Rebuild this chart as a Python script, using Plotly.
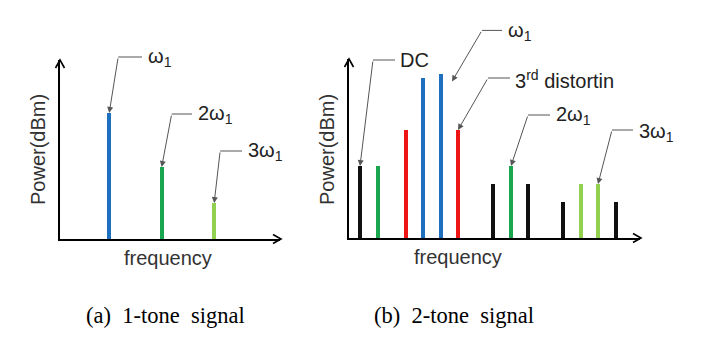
import plotly.graph_objects as go

W, H = 706, 354

# ---------------- data ----------------
# Panel (a): 1-tone signal (frequency in multiples of w1, power in arbitrary dB units)
a_freq = [1, 2, 3]
a_power = [7, 4, 2]
a_colors = ["#1f6fc1", "#1aa64f", "#92d050"]

# Panel (b): 2-tone signal (frequency in arbitrary units, power in arbitrary dB units)
b_freq = [1.1, 2.9, 5.7, 7.4, 9.2, 10.9, 14.4, 16.2, 17.9, 21.4, 23.2, 24.9, 26.7]
b_power = [4, 4, 6, 8.9, 9.1, 6, 3, 4, 3, 2, 3, 3, 2]
b_colors = ["#111111", "#1aa64f", "#f01515", "#1f6fc1", "#1f6fc1", "#f01515",
            "#111111", "#1aa64f", "#111111", "#111111", "#92d050", "#92d050", "#111111"]

captions = ["(a)\u00a0 1-tone\u00a0 signal", "(b)\u00a0 2-tone\u00a0 signal"]

def px(x):
    return x / W

def py(y):
    return 1 - y / H

fig = go.Figure()

fig.add_trace(go.Bar(x=a_freq, y=a_power, width=0.072, marker=dict(color=a_colors, line_width=0),
                     xaxis="x", yaxis="y", showlegend=False))
fig.add_trace(go.Bar(x=b_freq, y=b_power, width=0.38, marker=dict(color=b_colors, line_width=0),
                     xaxis="x2", yaxis="y2", showlegend=False))

ax_common = dict(showgrid=False, zeroline=False, showticklabels=False, ticks="",
                 showline=True, linecolor="#000", linewidth=1.6, fixedrange=True)

fig.update_layout(
    width=W, height=H, margin=dict(l=0, r=0, t=0, b=0),
    paper_bgcolor="white", plot_bgcolor="white", bargap=0,
    xaxis=dict(domain=[px(60), px(280)], range=[0.063, 4.254], anchor="y", **ax_common),
    yaxis=dict(domain=[py(239), py(60)], range=[0, 179 / 18], anchor="x", **ax_common),
    xaxis2=dict(domain=[px(349), px(640)], range=[0, 29.1], anchor="y2", **ax_common),
    yaxis2=dict(domain=[py(238), py(59)], range=[0, 179 / 18], anchor="x2", **ax_common),
)

# arrow chevrons on axes
def chevron_up(x, y):
    return f"M {px(x-4.5)},{py(y+8)} L {px(x)},{py(y)} L {px(x+4.5)},{py(y+8)}"

def chevron_right(x, y):
    return f"M {px(x-8)},{py(y-4.5)} L {px(x)},{py(y)} L {px(x-8)},{py(y+4.5)}"

for path in [chevron_up(60, 60), chevron_right(281, 239), chevron_up(349, 59), chevron_right(641, 238)]:
    fig.add_shape(type="path", path=path, xref="paper", yref="paper",
                  line=dict(color="#000", width=1.6))

lab_font = dict(family="Liberation Sans, Arial, sans-serif", size=20, color="#222")
ax_font = dict(family="Liberation Sans, Arial, sans-serif", size=20, color="#333")

# axis titles
for (x, y) in [(38, 150), (327, 150)]:
    fig.add_annotation(x=px(x), y=py(y), xref="paper", yref="paper", text="Power(dBm)",
                       textangle=-90, showarrow=False, font=ax_font,
                       xanchor="center", yanchor="middle")
for (x, y) in [(168, 258), (458, 257)]:
    fig.add_annotation(x=px(x), y=py(y), xref="paper", yref="paper", text="frequency",
                       showarrow=False, font=ax_font, xanchor="center", yanchor="middle")

# callouts: (label, xref, yref, target x, target y, elbow dx, elbow dy, hline end px, text left px, text y px)
callouts = [
    ("ω<sub>1</sub>", "x", "y", a_freq[0], a_power[0], 9, -56, 142, 146, 58),
    ("2ω<sub>1</sub>", "x", "y", a_freq[1], a_power[1], 10, -53, 192, 196, 115),
    ("3ω<sub>1</sub>", "x", "y", a_freq[2], a_power[2], 6, -52, 242, 246, 151),
    ("DC", "x2", "y2", b_freq[0], b_power[0], 13, -106, 395, 398, 60),
    ("ω<sub>1</sub>", "x2", "y2", 10.3, 8.7, 30, -51, 502, 506, 31),
    ("3<sup>rd</sup> distortin", "x2", "y2", b_freq[5], b_power[5], 30, -52, 510, 513, 79),
    ("2ω<sub>1</sub>", "x2", "y2", b_freq[7], b_power[7], 17, -51, 550, 554, 116),
    ("3ω<sub>1</sub>", "x2", "y2", b_freq[11], b_power[11], 14, -54, 633, 637, 132),
]

def to_px(axis, val):
    lay = fig.layout
    ax = {"x": lay.xaxis, "x2": lay.xaxis2, "y": lay.yaxis, "y2": lay.yaxis2}[axis]
    d, r = ax.domain, ax.range
    frac = d[0] + (val - r[0]) / (r[1] - r[0]) * (d[1] - d[0])
    return frac * W if axis.startswith("x") else (1 - frac) * H

for (txt, xr, yr, tx, ty, dx, dy, hend, tleft, ty_px) in callouts:
    fig.add_annotation(x=tx, y=ty, xref=xr, yref=yr, text="", showarrow=True,
                       ax=dx, ay=dy, axref="pixel", ayref="pixel",
                       arrowhead=2, arrowsize=1.2, arrowwidth=1, arrowcolor="#555", standoff=0)
    ex = to_px(xr, tx) + dx
    ey = to_px(yr, ty) + dy
    fig.add_shape(type="line", xref="paper", yref="paper",
                  x0=px(ex), y0=py(ey), x1=px(hend), y1=py(ey),
                  line=dict(color="#555", width=1))
    fig.add_annotation(x=px(tleft), y=py(ty_px), xref="paper", yref="paper", text=txt,
                       showarrow=False, xanchor="left", yanchor="middle", font=lab_font)

cap_font = dict(family="Liberation Serif, Times New Roman, serif", size=22.5, color="#000")
for cap, cx in zip(captions, [165.5, 454]):
    fig.add_annotation(x=px(cx), y=py(315), xref="paper", yref="paper", text=cap,
                       showarrow=False, font=cap_font, xanchor="center", yanchor="middle")

fig.write_html("out.html")
